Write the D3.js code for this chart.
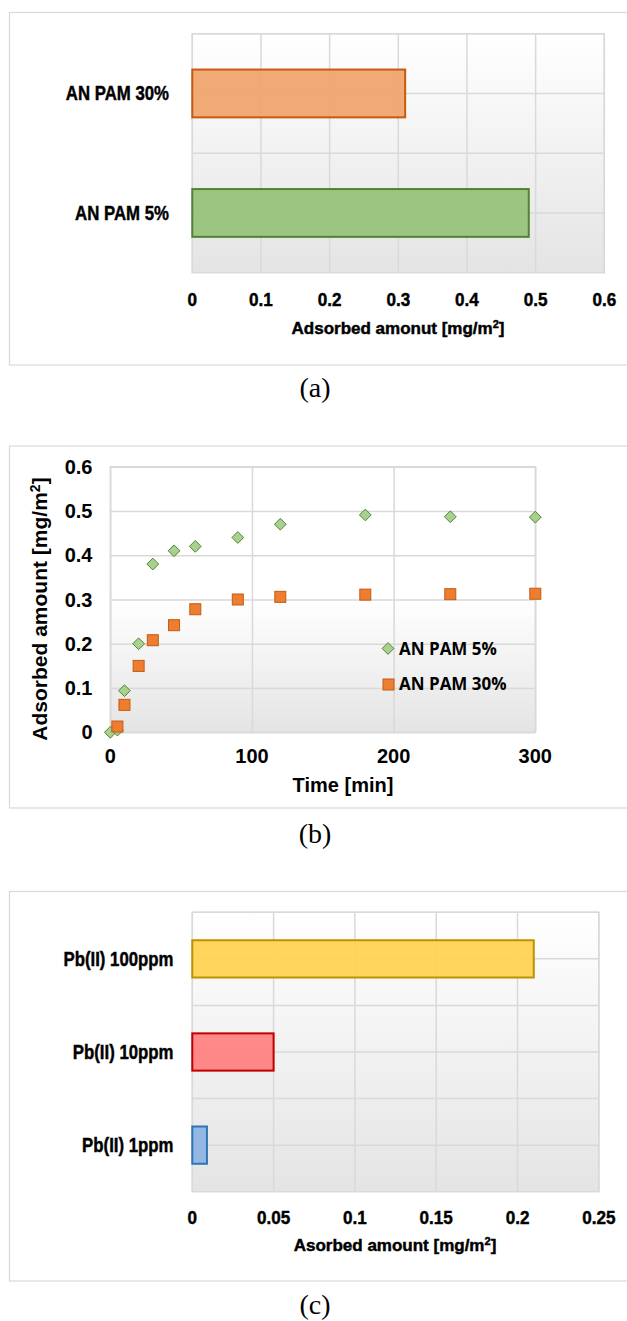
<!DOCTYPE html>
<html>
<head>
<meta charset="utf-8">
<script src="https://cdn.jsdelivr.net/npm/d3@7"></script>
<style>
  body { margin: 0; background: #fff; }
  .narrow { font-family: "Liberation Sans", Arial, sans-serif; font-weight: bold; stroke: #000; stroke-width: 0.45px; }
  .arial { font-family: "Liberation Sans", Arial, sans-serif; font-weight: bold; }
  .cap { font-family: "Liberation Serif", "Times New Roman", serif; }
</style>
</head>
<body>
<svg id="fig" width="627" height="1321"></svg>
<script>
// panel (a) - bar chart
var catsA = ["AN PAM 30%", "AN PAM 5%"];
var valsA = [0.31, 0.49];
var ticksA = [0, 0.1, 0.2, 0.3, 0.4, 0.5, 0.6];
var fillA = ["#f0a46c", "#97c27a"];
var strokeA = ["#c55a11", "#548235"];

// panel (b) - scatter
var time5 = [0, 5, 10, 20, 30, 45, 60, 90, 120, 180, 240, 300];
var pam5 = [0, 0.005, 0.094, 0.2, 0.38, 0.41, 0.42, 0.44, 0.47, 0.491, 0.487, 0.486];
var time30 = [5, 10, 20, 30, 45, 60, 90, 120, 180, 240, 300];
var pam30 = [0.013, 0.062, 0.15, 0.208, 0.242, 0.278, 0.3, 0.306, 0.311, 0.312, 0.313];
var ticksBx = [0, 100, 200, 300];
var ticksBy = [0, 0.1, 0.2, 0.3, 0.4, 0.5, 0.6];

// panel (c) - bar chart
var catsC = ["Pb(II) 100ppm", "Pb(II) 10ppm", "Pb(II) 1ppm"];
var valsC = [0.21, 0.05, 0.009];
var ticksC = [0, 0.05, 0.1, 0.15, 0.2, 0.25];
var fillC = ["#ffd34f", "#ff8080", "#8db4e2"];
var strokeC = ["#bf9000", "#c00000", "#2e75b6"];

var svg = d3.select("#fig");
var defs = svg.append("defs");

function gradient(id, mid) {
  var g = defs.append("linearGradient").attr("id", id)
    .attr("x1", 0).attr("y1", 0).attr("x2", 0).attr("y2", 1);
  g.append("stop").attr("offset", 0).attr("stop-color", "#ffffff");
  if (mid) g.append("stop").attr("offset", mid).attr("stop-color", "#ffffff");
  g.append("stop").attr("offset", 1).attr("stop-color", "#e4e4e4");
}
gradient("bgA");
gradient("bgB", 0.5);

// outer frame of each panel
function frame(y0, y1) {
  svg.append("rect").attr("x", 9.5).attr("y", y0).attr("width", 640).attr("height", y1 - y0)
    .attr("fill", "none").attr("stroke", "#d9d9d9").attr("stroke-width", 1.2);
}

function caption(txt, y) {
  svg.append("text").attr("class", "cap").attr("x", 315).attr("y", y)
    .attr("text-anchor", "middle").attr("font-size", 28).text(txt);
}

// squeezed text, stands in for the narrow font of the original
function place(x, y, k) {
  return "translate(" + x + "," + y + ") scale(" + k + ",1)";
}

// horizontal bar panel
function barPanel(o) {
  var g = svg.append("g");
  var x = d3.scaleLinear().domain([0, o.max]).range([o.left, o.right]);
  var y = d3.scaleBand().domain(o.cats).range([o.top, o.bottom]).paddingInner(0.6).paddingOuter(0.3);
  var step = y.step();

  g.append("rect").attr("x", o.left).attr("y", o.top)
    .attr("width", o.right - o.left).attr("height", o.bottom - o.top)
    .attr("fill", "url(#bgA)").attr("stroke", "#d9d9d9").attr("stroke-width", 1.5);

  // gridlines: value ticks + category boundaries and centres
  g.selectAll(".vg").data(o.ticks).enter().append("line")
    .attr("x1", function(d) { return x(d); }).attr("x2", function(d) { return x(d); })
    .attr("y1", o.top).attr("y2", o.bottom)
    .attr("stroke", "#d9d9d9").attr("stroke-width", 1.5);
  var hLines = [];
  o.cats.forEach(function(c) {
    var s = y(c) - step * 0.3;
    hLines.push(s, s + step / 2);
  });
  g.selectAll(".hg").data(hLines).enter().append("line")
    .attr("x1", o.left).attr("x2", o.right)
    .attr("y1", function(d) { return d; }).attr("y2", function(d) { return d; })
    .attr("stroke", "#d9d9d9").attr("stroke-width", 1.5);

  g.selectAll(".bar").data(o.vals).enter().append("rect")
    .attr("x", x(0))
    .attr("y", function(d, i) { return y(o.cats[i]); })
    .attr("width", function(d) { return x(d) - x(0); })
    .attr("height", y.bandwidth())
    .attr("fill", function(d, i) { return o.fill[i]; })
    .attr("fill-opacity", 0.93)
    .attr("stroke", function(d, i) { return o.stroke[i]; })
    .attr("stroke-width", 2);

  g.selectAll(".xt").data(o.ticks).enter().append("text")
    .attr("class", "narrow").attr("font-size", 19)
    .attr("transform", function(d) { return place(x(d), o.tickY, 0.9); })
    .attr("text-anchor", "middle").text(function(d) { return d; });
  g.selectAll(".yt").data(o.cats).enter().append("text")
    .attr("class", "narrow").attr("font-size", 20)
    .attr("transform", function(d) { return place(o.catX, y(d) + y.bandwidth() / 2, 0.84); })
    .attr("dy", "0.35em").attr("text-anchor", "end").text(function(d) { return d; });

  var t = g.append("text").attr("class", "narrow").attr("font-size", 17)
    .attr("transform", place(o.titleX, o.titleY, 1)).attr("text-anchor", "middle");
  t.append("tspan").text(o.title);
  t.append("tspan").attr("dy", -6).attr("font-size", 11).text("2");
  t.append("tspan").attr("dy", 6).text("]");
}

// (a)
frame(12.5, 365);
barPanel({
  cats: catsA, vals: valsA, ticks: ticksA, max: 0.6, fill: fillA, stroke: strokeA,
  left: 192.3, right: 604.3, top: 33.7, bottom: 272.7,
  tickY: 306, catX: 169,
  title: "Adsorbed amonut [mg/m", titleX: 398, titleY: 334
});
caption("(a)", 397);

// (b)
frame(446, 808);
(function() {
  var g = svg.append("g");
  var left = 110.3, right = 535.3, top = 466.7, bottom = 732.3;
  var x = d3.scaleLinear().domain([0, 300]).range([left, right]);
  var y = d3.scaleLinear().domain([0, 0.6]).range([bottom, top]);

  g.append("rect").attr("x", left).attr("y", top).attr("width", right - left).attr("height", bottom - top)
    .attr("fill", "url(#bgB)").attr("stroke", "#d9d9d9").attr("stroke-width", 1.5);

  g.append("g").attr("transform", "translate(0," + bottom + ")")
    .call(d3.axisBottom(x).tickValues(ticksBx).tickSize(-(bottom - top)).tickFormat(""))
    .call(function(a) { a.select(".domain").remove(); a.selectAll("line").attr("stroke", "#d9d9d9").attr("stroke-width", 1.5); });
  g.append("g").attr("transform", "translate(" + left + ",0)")
    .call(d3.axisLeft(y).tickValues(ticksBy).tickSize(-(right - left)).tickFormat(""))
    .call(function(a) { a.select(".domain").remove(); a.selectAll("line").attr("stroke", "#d9d9d9").attr("stroke-width", 1.5); });

  g.selectAll(".xl").data(ticksBx).enter().append("text").attr("class", "arial").attr("font-size", 20)
    .attr("x", function(d) { return x(d); }).attr("y", 763).attr("text-anchor", "middle").text(function(d) { return d; });
  g.selectAll(".yl").data(ticksBy).enter().append("text").attr("class", "arial").attr("font-size", 20)
    .attr("x", 92.5).attr("y", function(d) { return y(d); }).attr("dy", "0.35em")
    .attr("text-anchor", "end").text(function(d) { return d; });

  var diamond = d3.symbol().type(d3.symbolDiamond2).size(88);
  g.selectAll(".p5").data(pam5).enter().append("path")
    .attr("d", diamond)
    .attr("transform", function(d, i) { return "translate(" + x(time5[i]) + "," + y(d) + ")"; })
    .attr("fill", "#a9d18e").attr("stroke", "#548235").attr("stroke-width", 1);
  g.selectAll(".p30").data(pam30).enter().append("rect")
    .attr("x", function(d, i) { return x(time30[i]) - 5.5; })
    .attr("y", function(d) { return y(d) - 5.5; })
    .attr("width", 11).attr("height", 11)
    .attr("fill", "#ed7d31").attr("stroke", "#c55a11").attr("stroke-width", 1);

  // legend
  g.append("path").attr("d", diamond).attr("transform", "translate(388,648.5)")
    .attr("fill", "#a9d18e").attr("stroke", "#548235").attr("stroke-width", 1);
  g.append("rect").attr("x", 383).attr("y", 679).attr("width", 11).attr("height", 11)
    .attr("fill", "#ed7d31").attr("stroke", "#c55a11").attr("stroke-width", 1);
  g.append("text").attr("font-family", "'Open Sans', sans-serif").attr("font-weight", "bold")
    .attr("font-size", 17).attr("x", 399).attr("y", 654.5).text("AN PAM 5%");
  g.append("text").attr("font-family", "'Open Sans', sans-serif").attr("font-weight", "bold")
    .attr("font-size", 17).attr("x", 399).attr("y", 690).text("AN PAM 30%");

  g.append("text").attr("class", "arial").attr("font-size", 20)
    .attr("x", 343).attr("y", 792).attr("text-anchor", "middle").text("Time [min]");
  var yt = g.append("text").attr("class", "arial").attr("font-size", 21)
    .attr("transform", "translate(47,609) rotate(-90)").attr("text-anchor", "middle");
  yt.append("tspan").text("Adsorbed amount [mg/m");
  yt.append("tspan").attr("dy", -7).attr("font-size", 14).text("2");
  yt.append("tspan").attr("dy", 7).text("]");
})();
caption("(b)", 843);

// (c)
frame(891.5, 1281);
barPanel({
  cats: catsC, vals: valsC, ticks: ticksC, max: 0.25, fill: fillC, stroke: strokeC,
  left: 192.3, right: 598.8, top: 912.3, bottom: 1191.7,
  tickY: 1224, catX: 173.5,
  title: "Asorbed amount [mg/m", titleX: 395, titleY: 1251
});
caption("(c)", 1314);
</script>
</body>
</html>
